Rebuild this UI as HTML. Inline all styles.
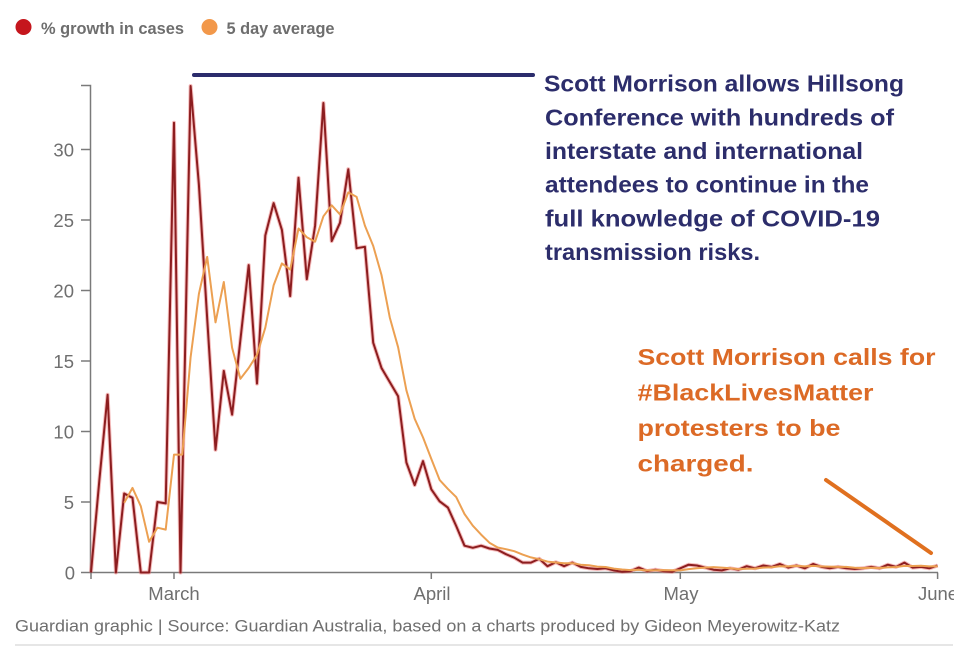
<!DOCTYPE html>
<html><head><meta charset="utf-8">
<style>
html,body{margin:0;padding:0;background:#fff;}
svg{display:block;}
</style></head>
<body>
<svg width="960" height="648" viewBox="0 0 960 648" xmlns="http://www.w3.org/2000/svg" font-family="'Liberation Sans', sans-serif">
<rect width="960" height="648" fill="#fff"/>

<!-- legend -->
<circle cx="23.5" cy="27" r="8" fill="#c5161d"/>
<text x="41" y="34" font-size="16.4" font-weight="bold" fill="#6e6e6e" textLength="143" lengthAdjust="spacingAndGlyphs">% growth in cases</text>
<circle cx="209.5" cy="27" r="8" fill="#f2984a"/>
<text x="226.5" y="34" font-size="16.4" font-weight="bold" fill="#6e6e6e" textLength="108" lengthAdjust="spacingAndGlyphs">5 day average</text>

<!-- y axis -->
<g stroke="#7a7a7a" stroke-width="1.5" fill="none">
<polyline points="81,85.5 90.5,85.5 90.5,572.5 938,572.5"/>
<line x1="81" y1="149.5" x2="90.5" y2="149.5"/>
<line x1="81" y1="220" x2="90.5" y2="220"/>
<line x1="81" y1="290.5" x2="90.5" y2="290.5"/>
<line x1="81" y1="361" x2="90.5" y2="361"/>
<line x1="81" y1="431.5" x2="90.5" y2="431.5"/>
<line x1="81" y1="502" x2="90.5" y2="502"/>
<line x1="81" y1="572.5" x2="90.5" y2="572.5"/>
<line x1="91" y1="572.5" x2="91" y2="579"/>
<line x1="174" y1="572.5" x2="174" y2="579"/>
<line x1="431.3" y1="572.5" x2="431.3" y2="579"/>
<line x1="680.3" y1="572.5" x2="680.3" y2="579"/>
<line x1="937.6" y1="572.5" x2="937.6" y2="579"/>
</g>
<g font-size="18.5" fill="#6f6f6f" text-anchor="end">
<text x="74" y="156.5">30</text>
<text x="74" y="227">25</text>
<text x="74" y="297.5">20</text>
<text x="74" y="368">15</text>
<text x="74" y="438.5">10</text>
<text x="74" y="509">5</text>
<text x="75" y="579.5">0</text>
</g>
<g font-size="18.5" fill="#6f6f6f" text-anchor="middle">
<text x="174" y="600">March</text>
<text x="432" y="600">April</text>
<text x="681" y="600">May</text>
<text x="938" y="600">June</text>
</g>

<!-- red series glow -->
<polyline fill="none" stroke="#e86a6a" stroke-opacity="0.45" stroke-width="4" stroke-linejoin="round" points="91,572.5 99.3,480.9 107.6,394.8 115.9,572.5 124.2,493.5 132.5,497.8 140.8,572.5 149.1,572.5 157.4,502.0 165.7,503.4 174.0,122.7 180.5,572.5 190.6,86.0 198.9,184.7 207.2,318.7 215.5,449.8 223.8,370.9 232.1,414.6 240.4,339.8 248.7,265.1 257.0,383.6 265.3,235.5 273.6,203.1 281.9,229.9 290.2,296.1 298.5,177.7 306.8,279.2 315.1,225.6 323.4,103.0 331.7,241.1 340.0,222.8 348.3,169.2 356.6,248.2 364.9,246.8 373.2,342.7 381.5,368.0 389.8,382.1 398.1,396.2 406.4,462.5 414.7,485.1 423.0,461.1 431.3,489.3 439.6,501.3 447.9,507.6 456.2,526.0 464.5,545.7 472.8,547.8 481.1,545.7 489.4,548.5 497.7,549.9 506.0,554.2 514.3,557.7 522.6,562.6 530.9,562.6 539.2,558.8 547.5,566.2 555.8,562.2 564.1,566.2 572.4,562.6 580.7,566.9 589.0,568.3 597.3,569.0 605.6,568.3 613.9,570.4 622.2,571.8 630.5,571.1 638.8,567.6 647.1,571.1 655.4,569.7 663.7,571.1 672.0,571.8 680.3,568.3 688.6,564.7 696.9,565.5 705.2,567.6 713.5,569.7 721.8,570.4 730.1,568.3 738.4,569.7 746.7,566.2 755.0,568.3 763.3,565.5 771.6,566.9 779.9,564.0 788.2,567.6 796.5,565.5 804.8,568.3 813.1,564.0 821.4,566.9 829.7,568.3 838.0,566.9 846.3,568.3 854.6,569.0 862.9,568.3 871.2,566.9 879.5,568.3 887.8,564.7 896.1,566.9 904.4,562.6 912.7,567.6 921.0,566.9 929.3,568.3 937.6,565.5"/>
<!-- red series core -->
<polyline fill="none" stroke="#8c1d1f" stroke-width="2" stroke-linejoin="round" points="91,572.5 99.3,480.9 107.6,394.8 115.9,572.5 124.2,493.5 132.5,497.8 140.8,572.5 149.1,572.5 157.4,502.0 165.7,503.4 174.0,122.7 180.5,572.5 190.6,86.0 198.9,184.7 207.2,318.7 215.5,449.8 223.8,370.9 232.1,414.6 240.4,339.8 248.7,265.1 257.0,383.6 265.3,235.5 273.6,203.1 281.9,229.9 290.2,296.1 298.5,177.7 306.8,279.2 315.1,225.6 323.4,103.0 331.7,241.1 340.0,222.8 348.3,169.2 356.6,248.2 364.9,246.8 373.2,342.7 381.5,368.0 389.8,382.1 398.1,396.2 406.4,462.5 414.7,485.1 423.0,461.1 431.3,489.3 439.6,501.3 447.9,507.6 456.2,526.0 464.5,545.7 472.8,547.8 481.1,545.7 489.4,548.5 497.7,549.9 506.0,554.2 514.3,557.7 522.6,562.6 530.9,562.6 539.2,558.8 547.5,566.2 555.8,562.2 564.1,566.2 572.4,562.6 580.7,566.9 589.0,568.3 597.3,569.0 605.6,568.3 613.9,570.4 622.2,571.8 630.5,571.1 638.8,567.6 647.1,571.1 655.4,569.7 663.7,571.1 672.0,571.8 680.3,568.3 688.6,564.7 696.9,565.5 705.2,567.6 713.5,569.7 721.8,570.4 730.1,568.3 738.4,569.7 746.7,566.2 755.0,568.3 763.3,565.5 771.6,566.9 779.9,564.0 788.2,567.6 796.5,565.5 804.8,568.3 813.1,564.0 821.4,566.9 829.7,568.3 838.0,566.9 846.3,568.3 854.6,569.0 862.9,568.3 871.2,566.9 879.5,568.3 887.8,564.7 896.1,566.9 904.4,562.6 912.7,567.6 921.0,566.9 929.3,568.3 937.6,565.5"/>

<!-- orange 5 day average -->
<polyline fill="none" stroke="#eca052" stroke-width="2" stroke-linejoin="round" points="124.2,502.8 132.5,487.9 140.8,506.2 149.1,541.8 157.4,527.7 165.7,529.6 174.0,454.6 182.3,454.6 190.6,357.3 198.9,293.9 207.2,256.9 215.5,322.4 223.8,282.0 232.1,347.7 240.4,378.8 248.7,368.0 257.0,354.8 265.3,327.7 273.6,285.4 281.9,263.4 290.2,269.6 298.5,228.5 306.8,237.2 315.1,241.7 323.4,216.3 331.7,205.3 340.0,214.4 348.3,192.4 356.6,196.9 364.9,225.6 373.2,245.9 381.5,275.0 389.8,317.6 398.1,347.2 406.4,390.3 414.7,418.8 423.0,437.4 431.3,458.9 439.6,479.9 447.9,488.9 456.2,497.1 464.5,514.0 472.8,525.7 481.1,534.6 489.4,542.7 497.7,547.5 506.0,549.2 514.3,551.2 522.6,554.6 530.9,557.4 539.2,559.2 547.5,561.6 555.8,562.5 564.1,563.2 572.4,563.2 580.7,564.7 589.0,565.2 597.3,566.6 605.6,567.0 613.9,568.6 622.2,569.5 630.5,570.1 638.8,569.8 647.1,570.4 655.4,570.2 663.7,570.1 672.0,570.2 680.3,570.4 688.6,569.1 696.9,568.3 705.2,567.6 713.5,567.1 721.8,567.6 730.1,568.3 738.4,569.1 746.7,568.8 755.0,568.6 763.3,567.6 771.6,567.3 779.9,566.2 788.2,566.4 796.5,565.9 804.8,566.4 813.1,565.9 821.4,566.4 829.7,566.6 838.0,566.9 846.3,566.9 854.6,567.8 862.9,568.1 871.2,567.8 879.5,568.1 887.8,567.4 896.1,567.0 904.4,565.9 912.7,566.0 921.0,565.7 929.3,566.4 937.6,566.2"/>

<!-- annotation 1 -->
<line x1="194" y1="75" x2="533" y2="75" stroke="#2b2c6c" stroke-width="4" stroke-linecap="round"/>
<g font-size="23" font-weight="bold" fill="#2c2d6b">
<text x="544" y="91.7" textLength="360" lengthAdjust="spacingAndGlyphs">Scott Morrison allows Hillsong</text>
<text x="545" y="125.3" textLength="349" lengthAdjust="spacingAndGlyphs">Conference with hundreds of</text>
<text x="545" y="159" textLength="318" lengthAdjust="spacingAndGlyphs">interstate and international</text>
<text x="545" y="192.7" textLength="324" lengthAdjust="spacingAndGlyphs">attendees to continue in the</text>
<text x="545" y="226.3" textLength="335" lengthAdjust="spacingAndGlyphs">full knowledge of COVID-19</text>
<text x="545" y="260" textLength="215" lengthAdjust="spacingAndGlyphs">transmission risks.</text>
</g>

<!-- annotation 2 -->
<g font-size="23" font-weight="bold" fill="#dc6a26">
<text x="637.5" y="365" textLength="298" lengthAdjust="spacingAndGlyphs">Scott Morrison calls for</text>
<text x="637.5" y="400.5" textLength="236" lengthAdjust="spacingAndGlyphs">#BlackLivesMatter</text>
<text x="637.5" y="436" textLength="203" lengthAdjust="spacingAndGlyphs">protesters to be</text>
<text x="637.5" y="471.5" textLength="116" lengthAdjust="spacingAndGlyphs">charged.</text>
</g>
<line x1="826" y1="480" x2="931" y2="553" stroke="#e0701f" stroke-width="4" stroke-linecap="round"/>

<!-- footer -->
<text x="15" y="631.5" font-size="17" fill="#6f6f6f" textLength="825" lengthAdjust="spacingAndGlyphs">Guardian graphic | Source: Guardian Australia, based on a charts produced by Gideon Meyerowitz-Katz</text>
<line x1="15" y1="645" x2="953" y2="645" stroke="#dddddd" stroke-width="1.5"/>

<rect x="954" y="575" width="6" height="73" fill="#fff"/>
</svg>
</body></html>
